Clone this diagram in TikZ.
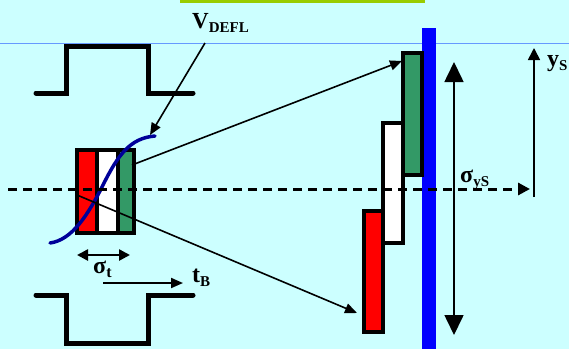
\documentclass[tikz,border=0pt]{standalone}
\usepackage{fontspec}
\setmainfont{Liberation Serif}
\usetikzlibrary{arrows.meta}
\definecolor{bgcyan}{HTML}{CCFFFF}
\definecolor{bunchred}{HTML}{FF0000}
\definecolor{bunchgreen}{HTML}{339966}
\definecolor{screenblue}{HTML}{0000FF}
\definecolor{curvenavy}{HTML}{000099}
\definecolor{barlime}{HTML}{99CC00}
\definecolor{rulerblue}{HTML}{6699FF}
\newcommand{\lbl}[4]{{\fontsize{#3}{#3}\selectfont\bfseries #1\raisebox{-4pt}{\fontsize{#4}{#4}\selectfont #2}}}

\begin{document}
\begin{tikzpicture}[x=1pt,y=-1pt,
    pulse/.style={line width=5pt,line cap=round},
    slab/.style={draw=black,line width=3.2pt},
    ray/.style={-{Triangle[length=12pt,width=10pt]},line width=1.6pt},
    txt/.style={anchor=base west,inner sep=0pt}]
    \useasboundingbox (0,0) rectangle (569,349);
    \fill [bgcyan] (0,0) rectangle (569,349);
    \fill [barlime] (180,0) rectangle (425,3);
    \draw [rulerblue,line width=1pt] (0,43) -- (569,43);
    % kicker pulses
    \draw [pulse] (36,93) -- (66,93) -- (66,46) -- (148,46) -- (148,93) -- (193,93);
    \draw [pulse] (36,295) -- (66,295) -- (66,343) -- (148,343) -- (148,295) -- (193,295);
    % screen
    \fill [screenblue] (422,28) rectangle (436,349);
    % bunch before the kicker
    \coordinate (BH) at (77,195);
    \coordinate (BT) at (132,165);
    \fill [bunchred] (77,150) rectangle (97,233);
    \fill [white] (97,150) rectangle (118,233);
    \fill [bunchgreen] (118,150) rectangle (134,233);
    \draw [slab] (77,150) rectangle (134,233);
    \draw [slab] (97,150) -- (97,233);
    \draw [slab] (118,150) -- (118,233);
    % streaked bunch on the screen
    \coordinate (SH) at (357,313);
    \coordinate (ST) at (402,61);
    \filldraw [slab,fill=white] (383,123) rectangle (403,243);
    \filldraw [slab,fill=bunchgreen] (403,53) rectangle (422,175);
    \filldraw [slab,fill=bunchred] (364,211) rectangle (383,332);
    % deflecting voltage
    \draw [curvenavy,line width=3.5pt,line cap=round] (50,243) .. controls (72,240) and (88,215) .. (103,185) .. controls (118,155) and (130,138) .. (155,136);
    \coordinate (VT) at (150,135);
    \node [txt] (V) at (192,28) {\lbl{V}{DEFL}{23}{15}};
    \draw [ray] (205,43) -- (VT);
    % projections
    \draw [ray] (BT) -- (ST);
    \draw [ray] (BH) -- (SH);
    % axis
    \coordinate (A0) at (8,189);
    \coordinate (A1) at (530,189);
    \draw [-{Triangle[length=12pt,width=12pt]},line width=3pt,dash pattern=on 9pt off 6pt] (A0) -- (A1);
    % sizes
    \draw [{Triangle[length=20pt,width=19pt]}-{Triangle[length=20pt,width=19pt]},line width=1.6pt] (454,62) -- (454,335);
    \node [txt] (SY) at (460,182) {\lbl{σ}{yS}{24}{15}};
    \draw [-{Triangle[length=12pt,width=12pt]},line width=1.6pt] (534,197) -- (534,48);
    \node [txt] (YS) at (547,66) {\lbl{y}{S}{24}{15}};
    \draw [{Triangle[length=11pt,width=11pt]}-{Triangle[length=11pt,width=11pt]},line width=2.5pt] (77,255) -- (130,255);
    \node [txt] (SGT) at (93,273) {\lbl{σ}{t}{24}{16}};
    \draw [-{Triangle[length=12pt,width=10pt]},line width=2pt] (103,283) -- (183,283);
    \node [txt] (TB) at (192,282) {\lbl{t}{B}{24}{15}};
\end{tikzpicture}
\end{document}
